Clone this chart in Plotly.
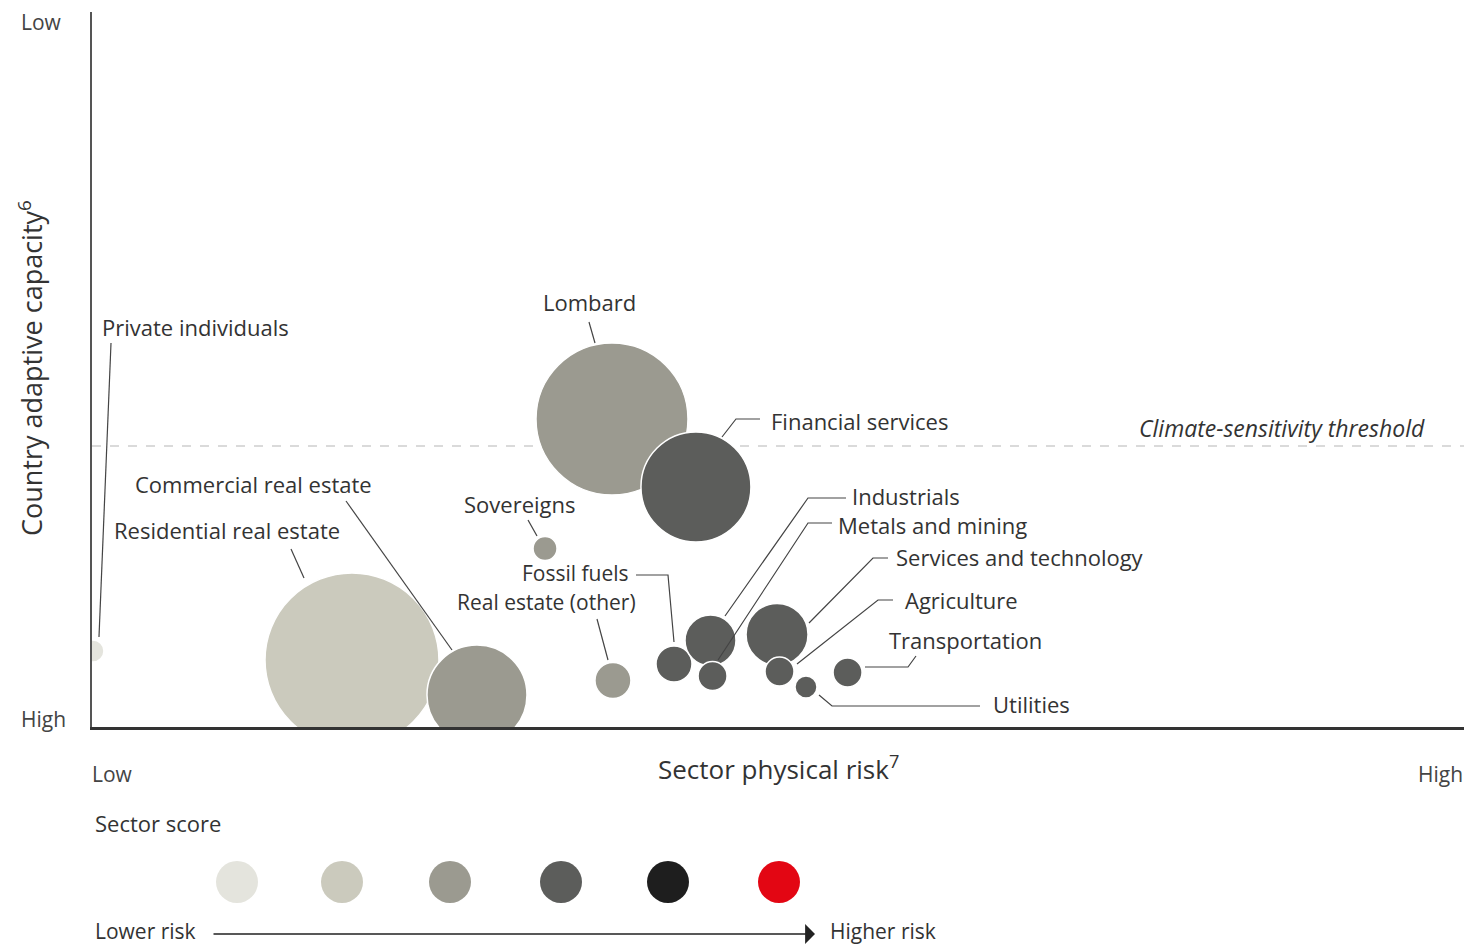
import plotly.graph_objects as go

# ---------------- data ----------------
sectors = ["Residential real estate", "Commercial real estate", "Private individuals",
           "Sovereigns", "Real estate (other)", "Lombard", "Financial services",
           "Fossil fuels", "Industrials", "Metals and mining", "Services and technology",
           "Agriculture", "Utilities", "Transportation"]
physical_risk = [18.95, 28.06, 0.07, 33.02, 37.97, 37.90, 44.02, 42.42, 45.08, 45.23, 49.93, 50.11, 52.04, 55.07]
adaptive_capacity = [9.37, 4.48, 10.63, 24.97, 6.50, 43.08, 33.57, 8.81, 12.10, 7.13, 12.94, 7.76, 5.59, 7.62]
exposure = [174, 100, 22, 24, 36, 152, 110, 36, 51, 29, 62, 29, 22, 29]
sector_score = [2, 3, 1, 3, 3, 3, 4, 4, 4, 4, 4, 4, 4, 4]
score_levels = [1, 2, 3, 4, 5, 6]
score_colors = ["#e4e4dd", "#cbcabd", "#9b9a90", "#5c5d5b", "#1e1e1e", "#e30613"]
threshold = 39.3

# ---------------- layout helpers ----------------
W, H = 1469, 946
ML, MR, MT, MB = 92, 5, 12, 219
PW, PH = W - ML - MR, H - MT - MB
FONT = "Open Sans"
TXT = "#333333"


def px(x, y):
    """pixel position -> paper coords"""
    return (x - ML) / PW, (MT + PH - y) / PH


def pth(points):
    parts = []
    for i, (x, y) in enumerate(points):
        a, b = px(x, y)
        parts.append(("M" if i == 0 else "L") + f"{a:.5f},{b:.5f}")
    return " ".join(parts)


fig = go.Figure()

color_map = {s: c for s, c in zip(score_levels, score_colors)}
fig.add_trace(go.Scatter(
    x=physical_risk, y=adaptive_capacity, mode="markers", text=sectors,
    marker=dict(size=exposure, sizemode="diameter", sizeref=1,
                color=[color_map[s] for s in sector_score],
                opacity=1, line=dict(color="white", width=1.5)),
    cliponaxis=True, hoverinfo="text", showlegend=False))

shapes = []
# threshold line
shapes.append(dict(type="line", xref="paper", yref="y", x0=0, x1=1, y0=threshold, y1=threshold,
                   line=dict(color="#b5b5b5", width=1, dash="dash"), layer="below"))

# sector score legend (below chart)
leg_px = [237, 342, 450, 561, 668, 779]
for lx, lev in zip(leg_px, score_levels):
    a, b = px(lx, 882)
    shapes.append(dict(type="circle", xref="paper", yref="paper",
                       xsizemode="pixel", ysizemode="pixel", xanchor=a, yanchor=b,
                       x0=-21, x1=21, y0=-21, y1=21,
                       fillcolor=color_map[lev], line=dict(width=0)))

leaders = [
    [(111, 343), (99, 637)],                       # Private individuals
    [(291, 549), (304, 578)],                      # Residential
    [(346, 501), (452, 650)],                      # Commercial
    [(589, 322), (595, 343)],                      # Lombard
    [(722, 437), (736, 419), (760, 419)],          # Financial services
    [(528, 520), (537, 536)],                      # Sovereigns
    [(597, 619), (608, 660)],                      # Real estate (other)
    [(636, 575), (668, 575), (674, 642)],          # Fossil fuels
    [(725, 616), (808, 498), (846, 498)],          # Industrials
    [(718, 660), (808, 523), (832, 523)],          # Metals and mining
    [(809, 623), (873, 558), (888, 558)],          # Services and technology
    [(797, 664), (878, 600), (893, 600)],          # Agriculture
    [(865, 667), (908, 667), (916, 656)],          # Transportation
    [(819, 695), (832, 706), (980, 706)],          # Utilities
]
for pts in leaders:
    shapes.append(dict(type="path", xref="paper", yref="paper", path=pth(pts),
                       line=dict(color="#444444", width=1.2)))

ann = []


def label(text, x, y, anchor="left", size=22, italic=False, color=TXT, angle=0):
    a, b = px(x, y)
    t = f"<i>{text}</i>" if italic else text
    ann.append(dict(text=t, x=a, y=b, xref="paper", yref="paper", xanchor=anchor,
                    yanchor="middle", showarrow=False, textangle=angle,
                    font=dict(family=FONT, size=size, color=color)))


# sector labels
label("Private individuals", 100, 327)
label("Lombard", 589, 302, "center")
label("Financial services", 769, 421)
label("Commercial real estate", 133, 484)
label("Residential real estate", 112, 530)
label("Sovereigns", 519, 504, "center")
label("Fossil fuels", 631, 573, "right", size=21)
label("Real estate (other)", 638, 602, "right", size=21)
label("Industrials", 850, 496)
label("Metals and mining", 836, 525)
label("Services and technology", 894, 557)
label("Agriculture", 903, 600)
label("Transportation", 887, 640)
label("Utilities", 991, 704)
label("Climate-sensitivity threshold", 1427, 428, "right", size=23, italic=True)

# axis labels
label("Low", 19, 22, size=21, color="#444444")
label("High", 19, 719, size=21, color="#444444")
label("Low", 90, 774, size=21, color="#444444")
label("High", 1465, 774, "right", size=21, color="#444444")
label("Sector physical risk<sup>7</sup>", 778, 768, "center", size=26)
label("Country adaptive capacity<sup>6</sup>", 30, 368, "center", size=27, angle=-90)

# legend texts
label("Sector score", 93, 823)
label("Lower risk", 93, 931, size=21)
label("Higher risk", 828, 931, size=21)

a0, b0 = px(815, 934)
ann.append(dict(x=a0, y=b0, xref="paper", yref="paper", ax=212 - 815, ay=0,
                axref="pixel", ayref="pixel", text="", showarrow=True,
                arrowhead=1, arrowsize=2.2, arrowwidth=1.5, arrowcolor="#222222"))

fig.update_layout(
    width=W, height=H, margin=dict(l=ML, r=MR, t=MT, b=MB),
    paper_bgcolor="white", plot_bgcolor="white",
    xaxis=dict(range=[0, 100], showgrid=False, zeroline=False, showticklabels=False,
               ticks="", showline=True, linecolor="#333333", linewidth=2.5, fixedrange=True),
    yaxis=dict(range=[0, 100], showgrid=False, zeroline=False, showticklabels=False,
               ticks="", showline=True, linecolor="#555555", linewidth=2, fixedrange=True),
    shapes=shapes, annotations=ann, showlegend=False,
    font=dict(family=FONT, color=TXT),
)

fig.write_html("out.html", config={"displayModeBar": False},
               post_script="document.body.style.margin='0px';document.body.style.overflow='hidden';")
